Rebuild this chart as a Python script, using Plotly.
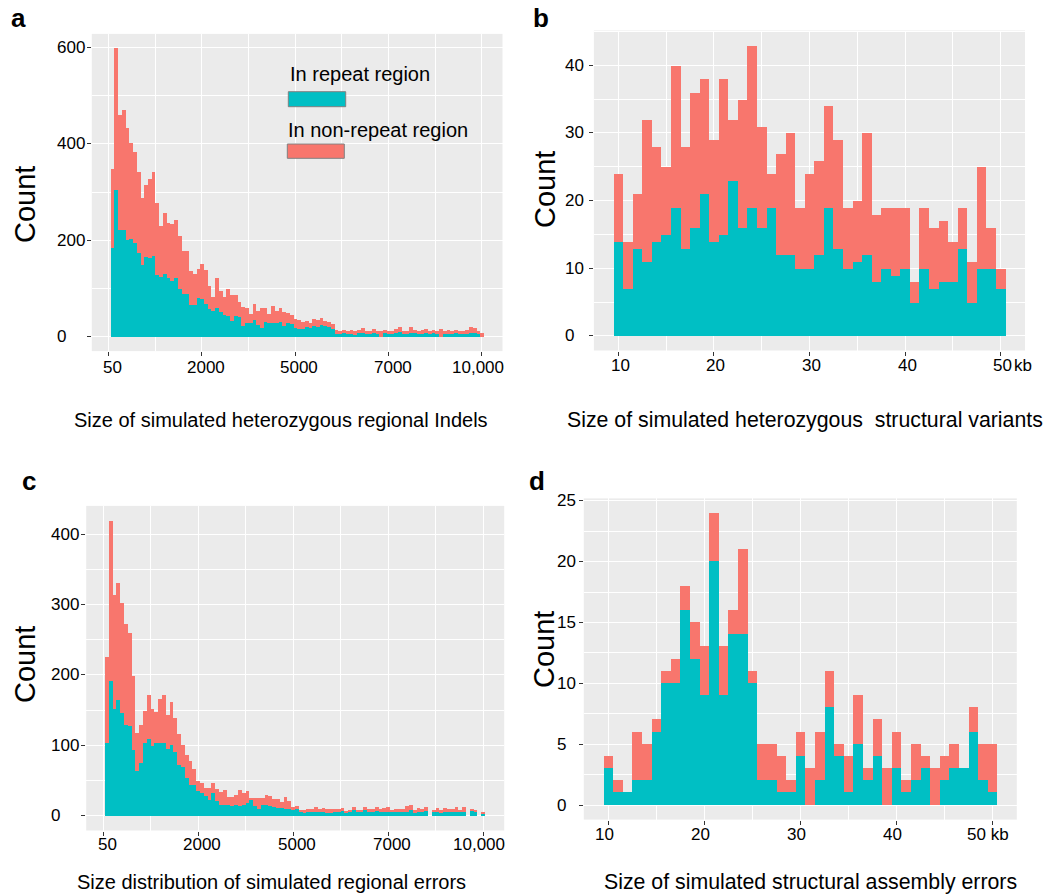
import plotly.graph_objects as go

W, H = 1055, 896
FONT = "Liberation Sans, Arial, sans-serif"
TEAL = "#00BFC4"
SALMON = "#F8766D"

# ---------------- data ----------------
# Panel a: regional indels, 100 bins of width 100 (50..10050)
a_centers = [100 + 100 * i for i in range(100)]
a_total = [347, 598, 460, 470, 432, 402, 383, 342, 287, 314,
           328, 342, 278, 230, 256, 235, 233, 243, 209, 178,
           178, 137, 131, 140, 150, 138, 105, 83, 121, 95,
           83, 100, 86, 86, 73, 61, 59, 48, 67, 53,
           60, 60, 48, 64, 53, 60, 52, 50, 46, 37,
           35, 30, 33, 29, 36, 34, 38, 33, 30, 27,
           14, 11, 15, 12, 14, 12, 15, 18, 11, 12,
           16, 11, 13, 15, 12, 13, 17, 20, 12, 13,
           20, 15, 13, 14, 16, 12, 15, 13, 17, 12,
           14, 11, 15, 13, 12, 14, 20, 18, 12, 8]
a_repeat = [184, 304, 221, 222, 200, 202, 195, 174, 148, 166,
            164, 167, 129, 124, 130, 122, 116, 121, 100, 88,
            88, 65, 65, 81, 79, 69, 57, 54, 59, 52,
            45, 43, 33, 43, 41, 22, 29, 28, 35, 24,
            19, 30, 28, 29, 28, 31, 22, 29, 26, 19,
            17, 16, 20, 18, 22, 21, 24, 22, 20, 17,
            6, 5, 7, 5, 6, 4, 7, 8, 5, 6,
            7, 5, 0, 7, 5, 6, 8, 9, 5, 6,
            8, 7, 6, 6, 7, 5, 7, 6, 0, 5,
            6, 5, 7, 6, 5, 6, 8, 8, 5, 0]

# Panel b: structural variants, 1 kb bins (10..50 kb)
b_centers = list(range(10, 51))
b_total = [24, 14, 21, 32, 28, 25, 40, 28, 36, 38,
           29, 38, 32, 35, 43, 31, 24, 27, 30, 19,
           24, 26, 34, 29, 19, 20, 30, 18, 19, 19,
           19, 8, 19, 16, 17, 14, 19, 11, 25, 16, 10]
b_repeat = [14, 7, 13, 11, 14, 15, 19, 13, 16, 21,
            14, 15, 23, 16, 19, 16, 19, 12, 12, 10,
            10, 12, 19, 13, 10, 11, 12, 8, 10, 9,
            10, 5, 10, 7, 8, 8, 13, 5, 10, 10, 7]

# Panel c: regional errors, 100 bins of width 100
c_centers = [100 + 100 * i for i in range(100)]
c_total = [225, 419, 313, 331, 302, 272, 260, 199, 118, 129,
           149, 172, 152, 148, 166, 172, 143, 162, 139, 116,
           100, 86, 78, 67, 50, 46, 40, 39, 46, 38,
           34, 36, 27, 27, 29, 36, 32, 35, 24, 26,
           25, 26, 30, 28, 24, 24, 20, 27, 21, 13,
           14, 8, 8, 10, 10, 12, 9, 11, 10, 10,
           10, 10, 11, 7, 8, 13, 8, 8, 13, 10,
           10, 13, 10, 11, 13, 8, 10, 10, 10, 14,
           16, 8, 11, 10, 13, 0, 8, 11, 8, 11,
           10, 10, 12, 8, 12, 0, 10, 8, 0, 5]
c_repeat = [103, 191, 151, 164, 146, 129, 128, 94, 63, 75,
            103, 109, 99, 104, 103, 103, 95, 101, 91, 72,
            70, 54, 44, 44, 35, 33, 28, 22, 33, 21,
            16, 16, 16, 14, 16, 14, 16, 18, 23, 14,
            10, 15, 16, 14, 13, 11, 11, 10, 10, 8,
            10, 5, 4, 5, 5, 6, 5, 5, 4, 4,
            5, 6, 7, 4, 5, 8, 5, 5, 8, 6,
            6, 7, 5, 6, 6, 5, 6, 6, 6, 6,
            8, 4, 6, 6, 7, 0, 5, 6, 4, 6,
            5, 5, 6, 5, 5, 0, 8, 6, 0, 2]

# Panel d: structural assembly errors, 1 kb bins
d_centers = list(range(10, 51))
d_total = [4, 2, 1, 6, 5, 7, 11, 12, 18, 15,
           13, 24, 13, 16, 21, 11, 5, 5, 4, 2,
           6, 3, 6, 11, 5, 4, 9, 3, 7, 3,
           6, 2, 5, 4, 3, 4, 5, 3, 8, 5, 5]
d_repeat = [3, 1, 1, 2, 2, 6, 10, 10, 16, 12,
            9, 20, 9, 14, 14, 10, 2, 2, 1, 1,
            4, 0, 2, 8, 4, 1, 5, 2, 4, 0,
            3, 1, 2, 3, 0, 2, 3, 3, 6, 2, 1]

# tick labels
ac_x_tickvals = [0, 2500, 5000, 7500, 10000]
ac_x_ticktext = ["50", "2000", "5000", "7000", "10,000"]
kb_tickvals = [10, 20, 30, 40, 50]
b_ticktext = ["10", "20", "30", "40", "50"]
d_ticktext = ["10", "20", "30", "40", "50 kb"]
a_y_ticks = [0, 200, 400, 600]
b_y_ticks = [0, 10, 20, 30, 40]
c_y_ticks = [0, 100, 200, 300, 400]
d_y_ticks = [0, 5, 10, 15, 20, 25]


def px(x):
    return x / W


def py(y):
    return 1 - y / H


def xdom(l, r):
    return [l / W, r / W]


def ydom(t, b):
    return [1 - b / H, 1 - t / H]


fig = go.Figure()
panels = [
    ("x", "y", a_centers, a_total, a_repeat, 100),
    ("x2", "y2", b_centers, b_total, b_repeat, 1),
    ("x3", "y3", c_centers, c_total, c_repeat, 100),
    ("x4", "y4", d_centers, d_total, d_repeat, 1),
]
for xa, ya, cx, tot, rep, bw in panels:
    nonrep = [t - r for t, r in zip(tot, rep)]
    fig.add_trace(go.Bar(x=cx, y=rep, width=bw, marker=dict(color=TEAL, line=dict(width=0)),
                         xaxis=xa, yaxis=ya, showlegend=False, name="In repeat region"))
    fig.add_trace(go.Bar(x=cx, y=nonrep, width=bw, marker=dict(color=SALMON, line=dict(width=0)),
                         xaxis=xa, yaxis=ya, showlegend=False, name="In non-repeat region"))


def grid_axis(domain, rng, tv, minor, anchor):
    return dict(domain=domain, range=rng, anchor=anchor, tickmode="array", tickvals=tv,
                showticklabels=False,
                showgrid=True, gridcolor="white", gridwidth=1.2, zeroline=False, showline=False,
                ticks="outside", ticklen=4, tickwidth=1, tickcolor="#333333",
                minor=dict(tickvals=minor, showgrid=True, gridcolor="white", gridwidth=0.6, ticks=""))


fig.update_layout(
    width=W, height=H, margin=dict(l=0, r=0, t=0, b=0),
    paper_bgcolor="white", plot_bgcolor="#EBEBEB", barmode="stack", bargap=0,
    font=dict(family=FONT, color="black"),
    xaxis=grid_axis(xdom(91.8, 502.5), [-450, 10550], ac_x_tickvals, [1250, 3750, 6250, 8750], "y"),
    yaxis=grid_axis(ydom(33.9, 351.1), [-29.9, 627.9], a_y_ticks, [100, 300, 500], "x"),
    xaxis2=grid_axis(xdom(593.9, 1025), [7.45, 52.55], kb_tickvals, [15, 25, 35, 45], "y2"),
    yaxis2=grid_axis(ydom(30.5, 350.5), [-2.15, 45.15], b_y_ticks, [5, 15, 25, 35, 45], "x2"),
    xaxis3=grid_axis(xdom(86.2, 504.2), [-450, 10550], ac_x_tickvals, [1250, 3750, 6250, 8750], "y3"),
    yaxis3=grid_axis(ydom(505.9, 830.5), [-21, 440], c_y_ticks, [50, 150, 250, 350], "x3"),
    xaxis4=grid_axis(xdom(583.8, 1016.8), [7.45, 52.55], kb_tickvals, [15, 25, 35, 45], "y4"),
    yaxis4=grid_axis(ydom(498.4, 819.6), [-1.2, 25.2], d_y_ticks, [2.5, 7.5, 12.5, 17.5, 22.5], "x4"),
)

ann = []


def text(t, x, y, size, xanchor="center", bold=False, angle=0):
    ann.append(dict(text=("<b>%s</b>" % t) if bold else t, x=px(x), y=py(y), xref="paper", yref="paper",
                    xanchor=xanchor, yanchor="middle", showarrow=False, textangle=angle,
                    font=dict(family=FONT, size=size, color="black")))


TICK_SIZE = 17

# x tick labels (text placed at the axis tick values)
for xref, vals, labels, ypix, shift in [
    ("x", ac_x_tickvals, ac_x_ticktext, 367, 4),
    ("x2", kb_tickvals, b_ticktext, 366, 2),
    ("x3", ac_x_tickvals, ac_x_ticktext, 844, 4),
    ("x4", kb_tickvals, d_ticktext, 834, -4),
]:
    for v, lab in zip(vals, labels):
        sh = shift
        if lab == "10,000":
            sh = -4
        ann.append(dict(text=lab, x=v, xref=xref, y=py(ypix), yref="paper", xanchor="center",
                        yanchor="middle", xshift=sh, showarrow=False,
                        font=dict(family=FONT, size=TICK_SIZE, color="black")))

# y tick labels (left aligned, as in the reference)
for yref, vals, xleft in [("y", a_y_ticks, 55), ("y2", b_y_ticks, 563),
                          ("y3", c_y_ticks, 49), ("y4", d_y_ticks, 555)]:
    for v in vals:
        ann.append(dict(text=str(v), x=px(xleft), xref="paper", y=v, yref=yref, xanchor="left",
                        yanchor="middle", showarrow=False,
                        font=dict(family=FONT, size=TICK_SIZE, color="black")))

# "kb" suffix in panel b
text("kb", 1012, 366, TICK_SIZE, xanchor="left")

# panel letters
text("a", 18, 18, 26, bold=True)
text("b", 541, 18, 26, bold=True)
text("c", 29, 481, 26, bold=True)
text("d", 537, 481, 26, bold=True)
# axis titles
text("Size of simulated heterozygous regional Indels", 281, 420, 20)
text("Size of simulated heterozygous\u00a0\u00a0structural variants", 805, 420, 21.3)
text("Size distribution of simulated regional errors", 271, 882, 20)
text("Size of simulated structural assembly errors", 810, 882, 21.3)
text("Count", 25, 205, 29, angle=-90)
text("Count", 545, 190, 29, angle=-90)
text("Count", 25, 665, 29, angle=-90)
text("Count", 544, 650, 29, angle=-90)
# legend texts
text("In repeat region", 288, 73.5, 20, xanchor="left")
text("In non-repeat region", 285.7, 130, 20, xanchor="left")
fig.update_layout(annotations=ann)

# legend keys
shapes = [
    dict(type="rect", xref="paper", yref="paper", x0=px(288.3), x1=px(345.7), y0=py(106.7), y1=py(91.7),
         fillcolor=TEAL, line=dict(color="#808080", width=1)),
    dict(type="rect", xref="paper", yref="paper", x0=px(287.3), x1=px(344.3), y0=py(158.3), y1=py(144),
         fillcolor=SALMON, line=dict(color="#808080", width=1)),
]
fig.update_layout(shapes=shapes)

fig.write_html("out.html")
